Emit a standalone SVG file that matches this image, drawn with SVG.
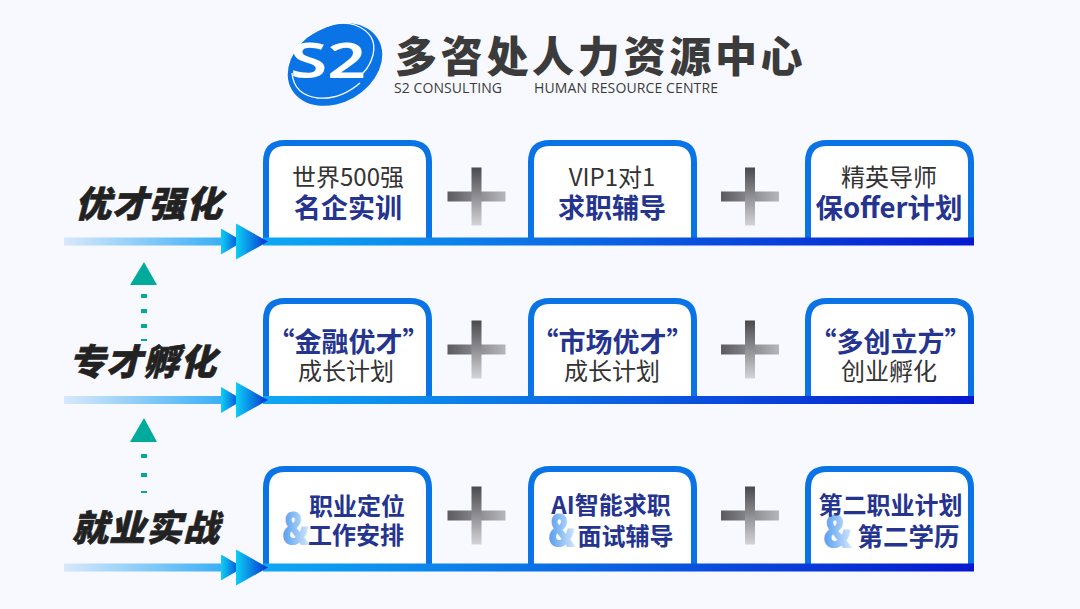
<svg xmlns="http://www.w3.org/2000/svg" xmlns:xlink="http://www.w3.org/1999/xlink" width="1080" height="609" viewBox="0 0 1080 609">
<style>
text{font-family:"Noto Sans CJK SC","Noto Sans",sans-serif}
.box{fill:#fff;stroke:#0a74e6;stroke-width:6}
.dark{font-size:24px;fill:#333;text-anchor:middle}
.blue{font-size:27px;font-weight:700;fill:#24348f;text-anchor:middle}
.side{font-size:36px;font-weight:900;fill:#222;letter-spacing:1px;stroke:#222;stroke-width:.6}
.amp{font-size:36px;font-weight:900;fill:url(#amp);font-family:"Noto Sans",sans-serif}
.dash{fill:#00ab9c}
</style>
<defs>
<linearGradient id="tail" x1="0" x2="1"><stop offset="0" stop-color="#d8e8fb"/><stop offset="1" stop-color="#38aef5"/></linearGradient>
<linearGradient id="line" gradientUnits="userSpaceOnUse" x1="263" x2="974" y1="0" y2="0"><stop offset="0" stop-color="#0ea8f4"/><stop offset="1" stop-color="#0718cf"/></linearGradient>
<linearGradient id="tri" x1="0" x2="1"><stop offset="0" stop-color="#0cd0f5"/><stop offset="1" stop-color="#0530d0"/></linearGradient>
<linearGradient id="ph" x1="0" x2="1"><stop offset="0" stop-color="#5c5c60"/><stop offset="1" stop-color="#b6b6ba"/></linearGradient>
<linearGradient id="pv" x1="0" x2="0" y1="0" y2="1"><stop offset="0" stop-color="#4a4a4e"/><stop offset="1" stop-color="#d4d4d8"/></linearGradient>
<linearGradient id="amp" x1="0" x2="1"><stop offset="0" stop-color="#4f9cef"/><stop offset="1" stop-color="#d5e7fb"/></linearGradient>
<g id="plus"><rect x="-29" y="-5" width="58" height="10" fill="url(#ph)"/><rect x="-5" y="-29" width="10" height="58" fill="url(#pv)"/></g>
<g id="arrow"><rect x="64" y="-4" width="160" height="8" fill="url(#tail)"/><rect x="263" y="-4" width="711" height="8" fill="url(#line)"/><path d="M221 -13L243 0L221 13Z" fill="url(#tri)"/><path d="M236 -18L268 0L236 18Z" fill="url(#tri)"/></g>
</defs>
<rect width="1080" height="609" fill="#f7f9fe"/>
<g id="logo">
<ellipse cx="335" cy="64.5" rx="50" ry="38" transform="rotate(-30 335 64.5)" fill="#0a74e6"/>
<path d="M307 37Q335 18 355 25Q378 34 373 55Q370 66 363 73" fill="none" stroke="#fff" stroke-width="1.3"/>
<path d="M292 73Q294 95 318 98Q340 100 360 83" fill="none" stroke="#fff" stroke-width="1.3"/>
<text x="290" y="78" font-size="49" font-weight="600" fill="#fff" textLength="76" lengthAdjust="spacingAndGlyphs" style="font-family:'Noto Sans',sans-serif">S2</text>
<text x="395" y="72" font-size="42" font-weight="900" fill="#3b3b3b" letter-spacing="3.7">多咨处人力资源中心</text>
<text x="394" y="93" font-size="14" fill="#3b3b3b" style="font-family:'Open Sans',sans-serif" textLength="108">S2 CONSULTING</text>
<text x="534" y="93" font-size="14" fill="#3b3b3b" style="font-family:'Open Sans',sans-serif" textLength="184">HUMAN RESOURCE CENTRE</text>
</g>
<g id="labels">
<text class="side" x="75" y="217" font-style="italic">优才强化</text>
<text class="side" x="69" y="375" font-style="italic">专才孵化</text>
<text class="side" x="72" y="541" font-style="italic">就业实战</text>
</g>
<g id="plus-signs">
<use xlink:href="#plus" href="#plus" x="476.5" y="196.5"/><use xlink:href="#plus" href="#plus" x="750" y="196.5"/>
<use xlink:href="#plus" href="#plus" x="476.5" y="349.5"/><use xlink:href="#plus" href="#plus" x="750" y="349.5"/>
<use xlink:href="#plus" href="#plus" x="476.5" y="515.5"/><use xlink:href="#plus" href="#plus" x="750" y="515.5"/>
</g>
<g id="n1"><path class="box" d="M266 238V162Q266 143 285 143H410Q429 143 429 162V238"/><text class="dark" x="348" y="186">世界500强</text><text class="blue" x="348" y="218">名企实训</text></g>
<g id="n2"><path class="box" d="M531 238V162Q531 143 550 143H675Q694 143 694 162V238"/><text class="dark" x="612" y="186">VIP1对1</text><text class="blue" x="612" y="218">求职辅导</text></g>
<g id="n3"><path class="box" d="M808 238V162Q808 143 827 143H952Q971 143 971 162V238"/><text class="dark" x="889" y="186">精英导师</text><text class="blue" x="889" y="218" style="font-size:27.5px">保offer计划</text></g>
<g id="n4"><path class="box" d="M266 396V320Q266 301 285 301H410Q429 301 429 320V396"/><text class="blue" x="348.500" y="352">“金融优才”</text><text class="dark" x="346" y="380">成长计划</text></g>
<g id="n5"><path class="box" d="M531 396V320Q531 301 550 301H675Q694 301 694 320V396"/><text class="blue" x="612.500" y="352">“市场优才”</text><text class="dark" x="612" y="380">成长计划</text></g>
<g id="n6"><path class="box" d="M808 396V320Q808 301 827 301H952Q971 301 971 320V396"/><text class="blue" x="890.500" y="352">“多创立方”</text><text class="dark" x="889" y="380">创业孵化</text></g>
<g id="n7"><path class="box" d="M266 564V488Q266 469 285 469H410Q429 469 429 488V564"/><text class="amp" transform="translate(282 545) scale(.95 1.3)">&amp;</text><text class="blue" x="357" y="515" style="font-size:24px">职业定位</text><text class="blue" x="356" y="544" style="font-size:24px">工作安排</text></g>
<g id="n8"><path class="box" d="M531 564V488Q531 469 550 469H675Q694 469 694 488V564"/><text class="amp" transform="translate(548 547) scale(.95 1.3)">&amp;</text><text class="blue" x="611" y="514" style="font-size:24px">AI智能求职</text><text class="blue" x="625.500" y="545" style="font-size:24px">面试辅导</text></g>
<g id="n9"><path class="box" d="M808 564V488Q808 469 827 469H952Q971 469 971 488V564"/><text class="amp" transform="translate(823 548) scale(1 1.3)">&amp;</text><text class="blue" x="890.500" y="514" style="font-size:24px">第二职业计划</text><text class="blue" x="908.500" y="546" style="font-size:25.5px">第二学历</text></g>
<g id="connectors">
<use xlink:href="#arrow" href="#arrow" y="241.5"/>
<use xlink:href="#arrow" href="#arrow" y="400"/>
<use xlink:href="#arrow" href="#arrow" y="567.5"/>
<path d="M144 262L157 285H130Z" fill="#00ab9c"/><rect class="dash" x="141" y="294" width="6" height="4"/><rect class="dash" x="141" y="309" width="6" height="4"/><rect class="dash" x="141" y="324" width="6" height="4"/><rect class="dash" x="141" y="339" width="6" height="2"/>
<path d="M144 418L157 442H130Z" fill="#00ab9c"/><rect class="dash" x="141" y="454" width="6" height="4"/><rect class="dash" x="141" y="473" width="6" height="4"/><rect class="dash" x="141" y="491" width="6" height="2"/>
</g>
</svg>
